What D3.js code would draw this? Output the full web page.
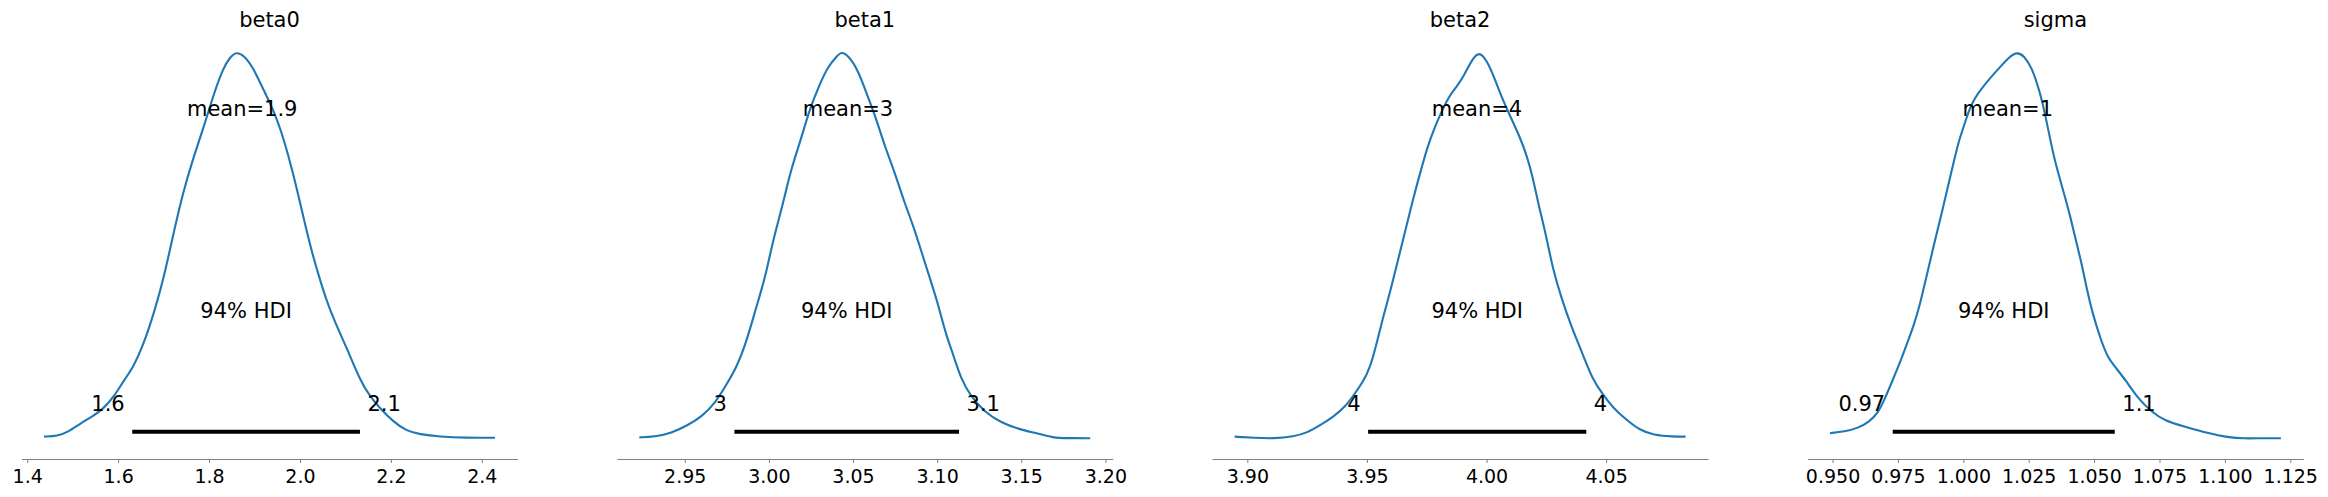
<!DOCTYPE html>
<html>
<head>
<meta charset="utf-8">
<script src="https://cdn.jsdelivr.net/npm/d3@7"></script>
<style>
  html, body { margin: 0; padding: 0; background: #fff; }
  svg { display: block; }
  text { font-family: "DejaVu Sans", sans-serif; }
</style>
</head>
<body>
<svg id="chart" width="2328" height="497"></svg>
<script>
// ---- data ----
const titles = ["beta0", "beta1", "beta2", "sigma"];

const beta0X = [1.437, 1.467, 1.489, 1.518, 1.543, 1.569, 1.591, 1.613, 1.632, 1.657, 1.681, 1.701, 1.722, 1.742, 1.766, 1.791, 1.811, 1.831, 1.847, 1.860, 1.876, 1.896, 1.920, 1.945, 1.965, 1.985, 1.997, 2.009, 2.025, 2.042, 2.058, 2.078, 2.102, 2.132, 2.154, 2.176, 2.205, 2.234, 2.263, 2.307, 2.366, 2.429];
const beta0D = [0.008, 0.010, 0.019, 0.043, 0.060, 0.082, 0.112, 0.155, 0.185, 0.250, 0.337, 0.423, 0.536, 0.639, 0.734, 0.821, 0.899, 0.964, 0.994, 1.006, 0.998, 0.968, 0.907, 0.847, 0.778, 0.691, 0.631, 0.570, 0.492, 0.423, 0.362, 0.302, 0.241, 0.155, 0.112, 0.082, 0.047, 0.023, 0.014, 0.008, 0.005, 0.005];

const beta1X = [2.923, 2.932, 2.942, 2.952, 2.960, 2.968, 2.975, 2.981, 2.987, 2.992, 2.998, 3.002, 3.008, 3.013, 3.019, 3.024, 3.030, 3.035, 3.041, 3.043, 3.047, 3.053, 3.058, 3.064, 3.069, 3.075, 3.080, 3.086, 3.091, 3.096, 3.101, 3.105, 3.110, 3.114, 3.120, 3.128, 3.138, 3.149, 3.159, 3.169, 3.177, 3.191];
const beta1D = [0.006, 0.008, 0.017, 0.038, 0.060, 0.094, 0.145, 0.189, 0.259, 0.337, 0.423, 0.510, 0.605, 0.700, 0.778, 0.855, 0.920, 0.968, 0.998, 1.006, 0.998, 0.959, 0.899, 0.830, 0.760, 0.691, 0.622, 0.553, 0.483, 0.415, 0.345, 0.276, 0.215, 0.160, 0.112, 0.073, 0.044, 0.027, 0.017, 0.005, 0.004, 0.004];

const beta2X = [3.8947, 3.9028, 3.9111, 3.9194, 3.9250, 3.9306, 3.9361, 3.9410, 3.9445, 3.9484, 3.9514, 3.9537, 3.9568, 3.9599, 3.9630, 3.9661, 3.9692, 3.9722, 3.9753, 3.9784, 3.9815, 3.9846, 3.9876, 3.9907, 3.9938, 3.9969, 4.0000, 4.0031, 4.0062, 4.0100, 4.0139, 4.0170, 4.0193, 4.0216, 4.0247, 4.0278, 4.0316, 4.0355, 4.0401, 4.0444, 4.0488, 4.0530, 4.0586, 4.0641, 4.0697, 4.0780, 4.0832];
const beta2D = [0.008, 0.005, 0.003, 0.008, 0.018, 0.038, 0.060, 0.086, 0.116, 0.150, 0.189, 0.241, 0.319, 0.388, 0.466, 0.544, 0.622, 0.691, 0.760, 0.812, 0.855, 0.894, 0.916, 0.946, 0.985, 1.008, 0.985, 0.942, 0.890, 0.838, 0.786, 0.734, 0.682, 0.613, 0.536, 0.440, 0.362, 0.293, 0.224, 0.155, 0.116, 0.082, 0.051, 0.025, 0.012, 0.008, 0.008];

const sigmaX = [0.9490, 0.9546, 0.9597, 0.9641, 0.9673, 0.9698, 0.9730, 0.9762, 0.9790, 0.9811, 0.9832, 0.9853, 0.9874, 0.9895, 0.9917, 0.9938, 0.9959, 0.9980, 1.0001, 1.0022, 1.0043, 1.0071, 1.0107, 1.0142, 1.0177, 1.0205, 1.0233, 1.0262, 1.0282, 1.0304, 1.0325, 1.0346, 1.0367, 1.0388, 1.0409, 1.0430, 1.0452, 1.0473, 1.0494, 1.0522, 1.0550, 1.0585, 1.0620, 1.0668, 1.0719, 1.0770, 1.0846, 1.0935, 1.1011, 1.1075, 1.1138, 1.1214];
const sigmaD = [0.017, 0.021, 0.030, 0.047, 0.069, 0.103, 0.155, 0.207, 0.259, 0.298, 0.345, 0.406, 0.466, 0.527, 0.587, 0.648, 0.708, 0.769, 0.812, 0.855, 0.886, 0.912, 0.942, 0.968, 0.994, 1.006, 0.996, 0.964, 0.925, 0.873, 0.803, 0.734, 0.682, 0.631, 0.579, 0.518, 0.458, 0.388, 0.328, 0.267, 0.215, 0.185, 0.155, 0.107, 0.073, 0.049, 0.034, 0.017, 0.006, 0.003, 0.004, 0.004];

const means = [1.873, 3.047, 3.996, 1.017];
const meanLabels = ["mean=1.9", "mean=3", "mean=4", "mean=1"];
const hdiLow = [1.631, 2.9795, 3.9505, 0.973];
const hdiHigh = [2.132, 3.113, 4.0417, 1.0579];
const hdiLowLabels = ["1.6", "3", "4", "0.97"];
const hdiHighLabels = ["2.1", "3.1", "4", "1.1"];
const hdiText = "94% HDI";

const ticks0 = [1.4, 1.6, 1.8, 2.0, 2.2, 2.4];
const ticks1 = [2.95, 3.00, 3.05, 3.10, 3.15, 3.20];
const ticks2 = [3.90, 3.95, 4.00, 4.05];
const ticks3 = [0.950, 0.975, 1.000, 1.025, 1.050, 1.075, 1.100, 1.125];
const tickFormats = [".1f", ".2f", ".2f", ".3f"];

// ---- layout ----
const svg = d3.select("#chart");
svg.append("rect").attr("width", 2328).attr("height", 497).attr("fill", "#fff");

const panels = [
  {x: beta0X, d: beta0D, ticks: ticks0},
  {x: beta1X, d: beta1D, ticks: ticks1},
  {x: beta2X, d: beta2D, ticks: ticks2},
  {x: sigmaX, d: sigmaD, ticks: ticks3}
];

const axLeft0 = 21.5, axStep = 595.3, axWidth = 496;
const axTop = 35, axBottom = 459;
const lineColor = "#1f77b4";
const labelSize = 21, tickSize = 19, titleSize = 21;

// y scale: density (normalized) with 5% margins like matplotlib autoscale
const yDomain = [-0.05, 1.05];
const plotHeight = yDomain[1];

panels.forEach((p, i) => {
  const left = axLeft0 + i * axStep;
  const xmin = d3.min(p.x), xmax = d3.max(p.x), r = xmax - xmin;
  const x = d3.scaleLinear().domain([xmin - 0.05 * r, xmax + 0.05 * r]).range([left, left + axWidth]);
  const y = d3.scaleLinear().domain(yDomain).range([axBottom, axTop]);

  const g = svg.append("g");

  // KDE line
  const pts = p.x.map((v, k) => [v, p.d[k]]);
  const line = d3.line().x(q => x(q[0])).y(q => y(q[1])).curve(d3.curveBasis);
  g.append("path").datum(pts).attr("d", line)
    .attr("fill", "none").attr("stroke", lineColor).attr("stroke-width", 2.1)
    .attr("stroke-linejoin", "round");

  // HDI bar
  g.append("line")
    .attr("x1", x(hdiLow[i])).attr("x2", x(hdiHigh[i]))
    .attr("y1", y(plotHeight * 0.02)).attr("y2", y(plotHeight * 0.02))
    .attr("stroke", "#000").attr("stroke-width", 4);

  // HDI labels
  g.append("text").attr("x", x(hdiLow[i])).attr("dx", -7.5).attr("y", y(plotHeight * 0.07))
    .attr("text-anchor", "end").attr("font-size", labelSize).attr("fill", "#000").text(hdiLowLabels[i]);
  g.append("text").attr("x", x(hdiHigh[i])).attr("dx", 7.5).attr("y", y(plotHeight * 0.07))
    .attr("text-anchor", "start").attr("font-size", labelSize).attr("fill", "#000").text(hdiHighLabels[i]);
  g.append("text").attr("x", x((hdiLow[i] + hdiHigh[i]) / 2)).attr("y", y(plotHeight * 0.3))
    .attr("text-anchor", "middle").attr("font-size", labelSize).attr("fill", "#000").text(hdiText);

  // point estimate
  g.append("text").attr("x", x(means[i])).attr("y", y(plotHeight * 0.8))
    .attr("text-anchor", "middle").attr("font-size", labelSize).attr("fill", "#000").text(meanLabels[i]);

  // title
  g.append("text").attr("x", left + axWidth / 2).attr("y", axTop - 8.5)
    .attr("text-anchor", "middle").attr("font-size", titleSize).attr("fill", "#000").text(titles[i]);

  // x axis
  const axis = d3.axisBottom(x).tickValues(p.ticks).tickFormat(d3.format(tickFormats[i]))
    .tickSize(4).tickSizeOuter(0).tickPadding(7);
  const ag = svg.append("g").attr("transform", `translate(0,${axBottom})`).call(axis);
  ag.select(".domain").attr("stroke", "#808080").attr("stroke-width", 1.1);
  ag.selectAll(".tick line").attr("stroke", "#808080").attr("stroke-width", 1);
  ag.selectAll(".tick text").attr("font-size", tickSize).attr("fill", "#000")
    .attr("font-family", "DejaVu Sans");
});
</script>
</body>
</html>
